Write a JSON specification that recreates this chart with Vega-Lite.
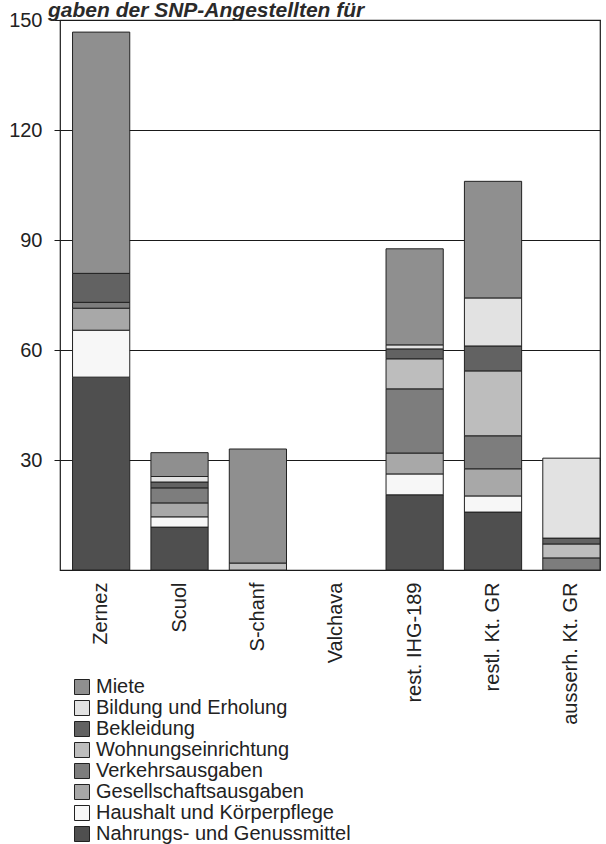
{
  "$schema": "https://vega.github.io/schema/vega-lite/v6.json",
  "autosize": {"type": "none"},
  "padding": {"left": 60, "top": 20, "right": 6, "bottom": 274},
  "width": 540,
  "height": 550,
  "background": "white",
  "title": {
    "text": "gaben der SNP-Angestellten für",
    "anchor": "start",
    "frame": "group",
    "font": "Liberation Sans",
    "fontSize": 21,
    "fontWeight": "bold",
    "fontStyle": "italic",
    "color": "#2a2a2a",
    "baseline": "alphabetic",
    "offset": -28,
    "dx": -12
  },
  "data": {
    "values": [
      {"Ort": "Zernez", "Kategorie": "Nahrungs- und Genussmittel", "Wert": 52.6},
      {"Ort": "Zernez", "Kategorie": "Haushalt und Körperpflege", "Wert": 12.8},
      {"Ort": "Zernez", "Kategorie": "Gesellschaftsausgaben", "Wert": 6.0},
      {"Ort": "Zernez", "Kategorie": "Verkehrsausgaben", "Wert": 1.6},
      {"Ort": "Zernez", "Kategorie": "Bekleidung", "Wert": 7.9},
      {"Ort": "Zernez", "Kategorie": "Miete", "Wert": 65.8},
      {"Ort": "Scuol", "Kategorie": "Nahrungs- und Genussmittel", "Wert": 11.7},
      {"Ort": "Scuol", "Kategorie": "Haushalt und Körperpflege", "Wert": 2.8},
      {"Ort": "Scuol", "Kategorie": "Gesellschaftsausgaben", "Wert": 3.8},
      {"Ort": "Scuol", "Kategorie": "Verkehrsausgaben", "Wert": 4.1},
      {"Ort": "Scuol", "Kategorie": "Bekleidung", "Wert": 1.6},
      {"Ort": "Scuol", "Kategorie": "Bildung und Erholung", "Wert": 1.5},
      {"Ort": "Scuol", "Kategorie": "Miete", "Wert": 6.5},
      {"Ort": "S-chanf", "Kategorie": "Wohnungseinrichtung", "Wert": 1.9},
      {"Ort": "S-chanf", "Kategorie": "Miete", "Wert": 31.1},
      {"Ort": "rest. IHG-189", "Kategorie": "Nahrungs- und Genussmittel", "Wert": 20.5},
      {"Ort": "rest. IHG-189", "Kategorie": "Haushalt und Körperpflege", "Wert": 5.7},
      {"Ort": "rest. IHG-189", "Kategorie": "Gesellschaftsausgaben", "Wert": 5.7},
      {"Ort": "rest. IHG-189", "Kategorie": "Verkehrsausgaben", "Wert": 17.5},
      {"Ort": "rest. IHG-189", "Kategorie": "Wohnungseinrichtung", "Wert": 8.2},
      {"Ort": "rest. IHG-189", "Kategorie": "Bekleidung", "Wert": 2.7},
      {"Ort": "rest. IHG-189", "Kategorie": "Bildung und Erholung", "Wert": 1.1},
      {"Ort": "rest. IHG-189", "Kategorie": "Miete", "Wert": 26.2},
      {"Ort": "restl. Kt. GR", "Kategorie": "Nahrungs- und Genussmittel", "Wert": 15.8},
      {"Ort": "restl. Kt. GR", "Kategorie": "Haushalt und Körperpflege", "Wert": 4.4},
      {"Ort": "restl. Kt. GR", "Kategorie": "Gesellschaftsausgaben", "Wert": 7.4},
      {"Ort": "restl. Kt. GR", "Kategorie": "Verkehrsausgaben", "Wert": 9.0},
      {"Ort": "restl. Kt. GR", "Kategorie": "Wohnungseinrichtung", "Wert": 17.7},
      {"Ort": "restl. Kt. GR", "Kategorie": "Bekleidung", "Wert": 6.8},
      {"Ort": "restl. Kt. GR", "Kategorie": "Bildung und Erholung", "Wert": 13.1},
      {"Ort": "restl. Kt. GR", "Kategorie": "Miete", "Wert": 31.8},
      {"Ort": "ausserh. Kt. GR", "Kategorie": "Verkehrsausgaben", "Wert": 3.3},
      {"Ort": "ausserh. Kt. GR", "Kategorie": "Wohnungseinrichtung", "Wert": 3.8},
      {"Ort": "ausserh. Kt. GR", "Kategorie": "Bekleidung", "Wert": 1.6},
      {"Ort": "ausserh. Kt. GR", "Kategorie": "Bildung und Erholung", "Wert": 21.8}
    ]
  },
  "transform": [
    {"calculate": "indexof(['Nahrungs- und Genussmittel', 'Haushalt und Körperpflege', 'Gesellschaftsausgaben', 'Verkehrsausgaben', 'Wohnungseinrichtung', 'Bekleidung', 'Bildung und Erholung', 'Miete'], datum.Kategorie)", "as": "Stapelrang"}
  ],
  "mark": {"type": "bar", "stroke": "#222222", "strokeWidth": 1},
  "encoding": {
    "x": {
      "field": "Ort",
      "type": "nominal",
      "scale": {
        "domain": ["Zernez", "Scuol", "S-chanf", "Valchava", "rest. IHG-189", "restl. Kt. GR", "ausserh. Kt. GR"],
        "paddingInner": 0.27,
        "paddingOuter": 0.08,
        "align": 1
      },
      "axis": {
        "title": null,
        "labelAngle": -90,
        "labelAlign": "right",
        "labelBaseline": "middle",
        "labelFont": "Liberation Sans",
        "labelFontSize": 20,
        "labelColor": "#222222",
        "labelPadding": 12,
        "ticks": false,
        "domain": false
      }
    },
    "y": {
      "field": "Wert",
      "type": "quantitative",
      "stack": "zero",
      "scale": {"domain": [0, 150], "nice": false},
      "axis": {
        "title": null,
        "values": [30, 60, 90, 120, 150],
        "grid": true,
        "gridColor": "#1a1a1a",
        "gridWidth": 1,
        "gridOpacity": 1,
        "tickColor": "#1a1a1a",
        "tickSize": 6,
        "labelPadding": 12,
        "labelFont": "Liberation Sans",
        "labelFontSize": 20,
        "labelColor": "#222222",
        "domain": false
      }
    },
    "order": {"field": "Stapelrang", "type": "quantitative", "sort": "ascending"},
    "color": {
      "field": "Kategorie",
      "type": "nominal",
      "scale": {
        "domain": ["Miete", "Bildung und Erholung", "Bekleidung", "Wohnungseinrichtung", "Verkehrsausgaben", "Gesellschaftsausgaben", "Haushalt und Körperpflege", "Nahrungs- und Genussmittel"],
        "range": ["#8f8f8f", "#e2e2e2", "#626262", "#bdbdbd", "#7d7d7d", "#a8a8a8", "#f7f7f7", "#4f4f4f"]
      },
      "legend": {
        "title": null,
        "orient": "none",
        "legendX": 12,
        "legendY": 657,
        "padding": 0,
        "symbolType": "square",
        "symbolSize": 225,
        "symbolStrokeColor": "#222222",
        "symbolStrokeWidth": 1,
        "symbolOpacity": 1,
        "labelFont": "Liberation Sans",
        "labelFontSize": 20,
        "labelColor": "#222222",
        "labelOffset": 4,
        "labelLimit": 400,
        "rowPadding": 1
      }
    }
  },
  "config": {
    "view": {"stroke": "#1a1a1a", "strokeWidth": 1.2}
  }
}
